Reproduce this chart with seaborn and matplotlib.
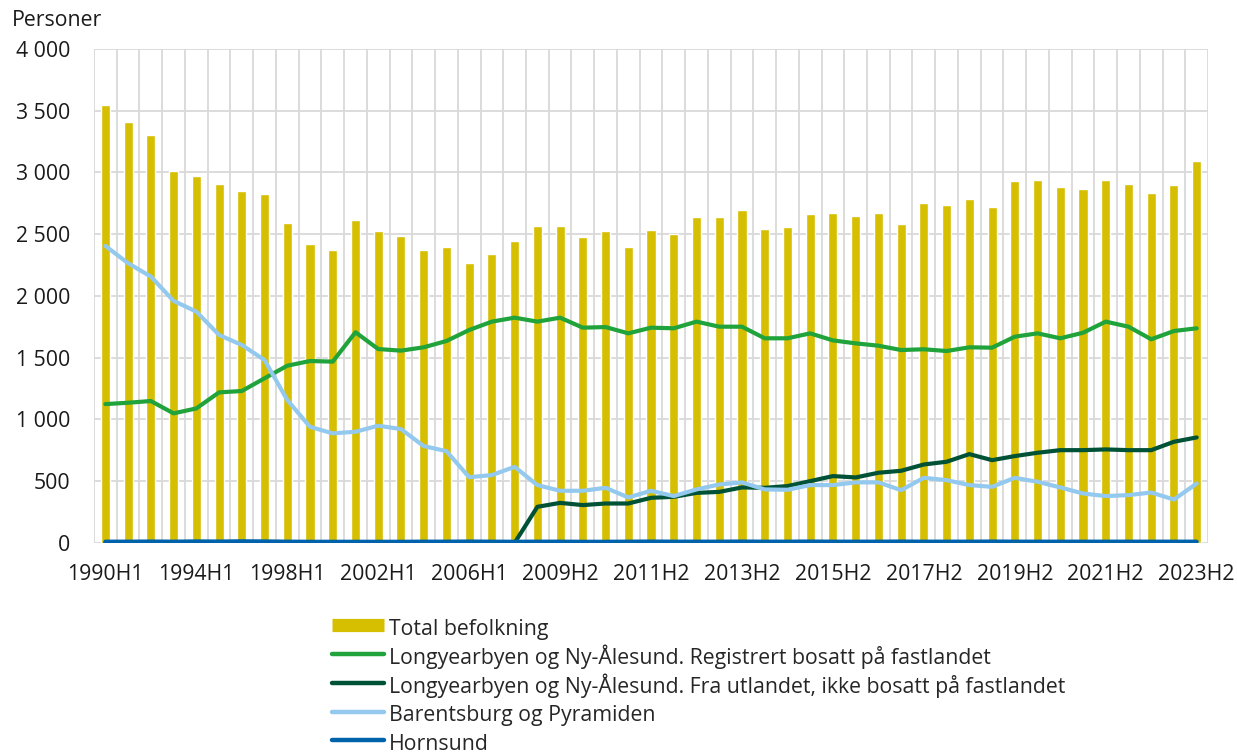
import matplotlib
matplotlib.use("Agg")
import matplotlib.pyplot as plt
from matplotlib.lines import Line2D
from matplotlib.ticker import FuncFormatter, MultipleLocator
import seaborn as sns
import pandas as pd

# Categories: annual H1 1990-2009, then half-yearly from 2009H2
periods = [f"{y}H1" for y in range(1990, 2010)] + ["2009H2"] + \
    [f"{y}H{h}" for y in range(2010, 2024) for h in (1, 2)]

total = [3543, 3405, 3305, 3016, 2973, 2908, 2846, 2824, 2594, 2419,
         2373, 2616, 2527, 2486, 2373, 2397, 2265, 2338, 2446, 2565,
         2568, 2478, 2527, 2395, 2538, 2503, 2643, 2638, 2695, 2543,
         2559, 2665, 2670, 2651, 2670, 2581, 2754, 2738, 2786, 2724,
         2927, 2938, 2881, 2870, 2938, 2903, 2830, 2897, 3094]

registrert = [1124, 1135, 1149, 1049, 1089, 1219, 1230, 1333, 1435, 1473,
              1468, 1706, 1570, 1557, 1584, 1635, 1724, 1792, 1824, 1792,
              1824, 1743, 1748, 1697, 1743, 1738, 1792, 1751, 1751, 1657,
              1657, 1697, 1640, 1616, 1597, 1562, 1568, 1554, 1584, 1581,
              1670, 1697, 1657, 1702, 1792, 1751, 1649, 1716, 1738]

utlandet = [0, 0, 0, 0, 0, 0, 0, 0, 0, 0,
            0, 0, 0, 0, 0, 0, 0, 0, 0, 292,
            324, 306, 319, 319, 365, 373, 405, 413, 449, 446,
            460, 500, 541, 530, 568, 584, 635, 657, 719, 670,
            703, 730, 751, 751, 757, 751, 751, 819, 854]

barentsburg = [2405, 2265, 2157, 1960, 1873, 1684, 1603, 1481, 1157, 940,
               887, 900, 949, 922, 784, 743, 532, 549, 616, 468,
               422, 422, 446, 368, 422, 379, 433, 473, 490, 433,
               430, 468, 468, 490, 490, 427, 527, 508, 468, 454,
               527, 495, 449, 400, 379, 387, 408, 351, 481]

hornsund = [10, 10, 11, 10, 12, 11, 13, 12, 10, 9,
            9, 9, 9, 9, 10, 10, 11, 10, 9, 10,
            10, 9, 9, 10, 11, 10, 10, 10, 11, 10,
            10, 11, 10, 10, 10, 11, 10, 10, 10, 11,
            10, 10, 10, 10, 10, 10, 10, 10, 10]

labels = ["Total befolkning",
          "Longyearbyen og Ny-Ålesund. Registrert bosatt på fastlandet",
          "Longyearbyen og Ny-Ålesund. Fra utlandet, ikke bosatt på fastlandet",
          "Barentsburg og Pyramiden",
          "Hornsund"]
colors = ["#D6BE00", "#1FA33A", "#005237", "#93C9EE", "#0062AA"]

df = pd.DataFrame({"periode": periods, "total": total, "registrert": registrert,
                   "utlandet": utlandet, "barentsburg": barentsburg,
                   "hornsund": hornsund})

sns.set_style("white")
plt.rcParams["font.family"] = ["Open Sans", "DejaVu Sans"]
fs = 15.3
txt_color = "#1a1a1a"

dpi = 100
fig, ax = plt.subplots(figsize=(1237 / dpi, 754 / dpi), dpi=dpi)
plt.subplots_adjust(left=0.076, right=0.9766, top=0.935, bottom=0.28)

sns.barplot(data=df, x="periode", y="total", color=colors[0], width=0.4,
            saturation=1, ax=ax, zorder=2)
for col, c in zip(["registrert", "utlandet", "barentsburg", "hornsund"], colors[1:]):
    sns.lineplot(data=df, x="periode", y=col, color=c, lw=3, sort=False,
                 ax=ax, zorder=3, solid_capstyle="round")

ax.set_xlim(-0.5, len(periods) - 0.5)
ax.set_ylim(0, 4000)
ax.yaxis.set_major_locator(MultipleLocator(500))
ax.yaxis.set_major_formatter(FuncFormatter(lambda v, p: f"{int(v):,}".replace(",", " ")))

# Labels every 4th period, gridlines between categories
ax.set_xticks(range(0, len(periods), 4))
ax.set_xticklabels(periods[::4])
ax.set_xticks([i - 0.5 for i in range(len(periods) + 1)], minor=True)
ax.grid(which="minor", axis="x", color="#D9D9D9", lw=1.3, zorder=0)
ax.grid(which="major", axis="y", color="#D9D9D9", lw=1.3, zorder=0)
ax.grid(which="major", axis="x", visible=False)
ax.set_axisbelow(True)
ax.tick_params(axis="both", which="both", length=0, labelsize=fs, colors=txt_color)
ax.tick_params(axis="x", pad=15)
ax.tick_params(axis="y", pad=17)
for s in ax.spines.values():
    s.set_visible(False)
ax.set_xlabel("")
ax.set_ylabel("")

fig.text(0.0097, 1 - 21 / 754, "Personer", fontsize=fs, ha="left", va="center",
         color=txt_color)

# Legend: thick line for the bar swatch so all rows get the same height
handles = [Line2D([0], [0], color=colors[0], lw=9.5, solid_capstyle="butt", label=labels[0])]
for lab, c in zip(labels[1:], colors[1:]):
    handles.append(Line2D([0], [0], color=c, lw=3.2, label=lab, solid_capstyle="round"))
fig.legend(handles=handles, loc="upper left", bbox_to_anchor=(0.268, 0.1835),
           frameon=False, fontsize=fs, handlelength=2.45, handletextpad=0.25,
           labelspacing=0.21, borderpad=0, borderaxespad=0, handleheight=1.35)

plt.savefig("out.png", dpi=dpi)
